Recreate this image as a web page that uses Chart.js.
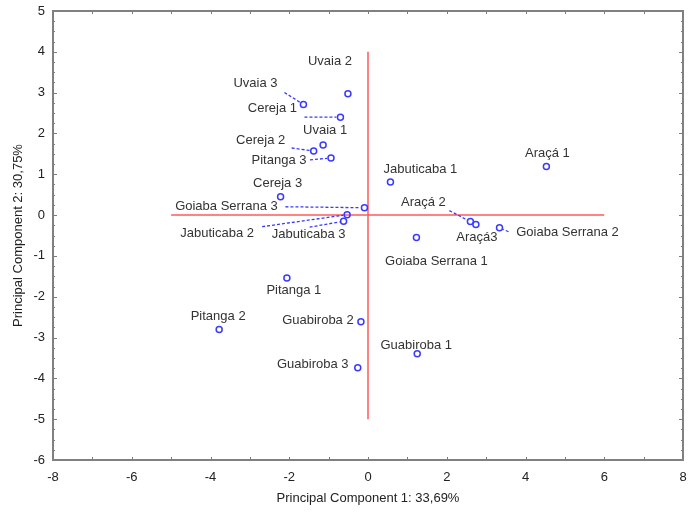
<!DOCTYPE html>
<html>
<head>
<meta charset="utf-8">
<title>PCA – frutas nativas</title>
<script src="https://cdn.jsdelivr.net/npm/chart.js@4.4.1/dist/chart.umd.min.js"></script>
<style>
  html, body { margin: 0; padding: 0; background: #ffffff; }
  #wrap { width: 699px; height: 513px; }
</style>
</head>
<body>
<div id="wrap"><canvas id="pca"></canvas></div>
<script>
// Sample names and their scores on the first two principal components
const samples = [
  'Araçá 1', 'Araçá 2', 'Araçá3',
  'Cereja 1', 'Cereja 2', 'Cereja 3',
  'Goiaba Serrana 1', 'Goiaba Serrana 2', 'Goiaba Serrana 3',
  'Guabiroba 1', 'Guabiroba 2', 'Guabiroba 3',
  'Jabuticaba 1', 'Jabuticaba 2', 'Jabuticaba 3',
  'Pitanga 1', 'Pitanga 2', 'Pitanga 3',
  'Uvaia 1', 'Uvaia 2', 'Uvaia 3'
];
const pc1 = [
  4.53, 2.60, 2.74,
  -0.70, -1.38, -2.22,
  1.23, 3.34, -0.09,
  1.25, -0.18, -0.26,
  0.57, -0.53, -0.62,
  -2.06, -3.78, -0.94,
  -1.14, -0.51, -1.64
];
const pc2 = [
  1.19, -0.16, -0.23,
  2.40, 1.57, 0.45,
  -0.55, -0.31, 0.18,
  -3.40, -2.61, -3.74,
  0.81, 0.01, -0.15,
  -1.54, -2.80, 1.40,
  1.72, 2.97, 2.71
];

// Reference cross through the origin
const crossX = [-5, 6];
const crossY = [-5, 4];

// Axis ranges and tick spacing
const xRange = [-8, 8];
const yRange = [-6, 5];
const xMajorStep = 2, xMinorStep = 1;
const yMajorStep = 1, yMinorStep = 0.25;

// Axis titles
const xTitle = 'Principal Component 1: 33,69%';
const yTitle = 'Principal Component 2: 30,75%';

// Label placement: text centre offset from its point (px); optional leader start offset (px)
const labelLayout = [
  { dx: 1, dy: -13 }, { dx: -47, dy: -19, lx: -21, ly: -11 }, { dx: 1, dy: 13 },
  { dx: -68, dy: -9, lx: -36, ly: 0 }, { dx: -53, dy: -11, lx: -22, ly: -3 }, { dx: -3, dy: -13 },
  { dx: 20, dy: 24 }, { dx: 68, dy: 5, lx: 9, ly: 4 }, { dx: -138, dy: -1, lx: -79, ly: -1 },
  { dx: -1, dy: -8 }, { dx: -43, dy: -1 }, { dx: -45, dy: -3 },
  { dx: 30, dy: -13 }, { dx: -130, dy: 19, lx: -85, ly: 12 }, { dx: -35, dy: 13, lx: -34, ly: 6 },
  { dx: 7, dy: 12 }, { dx: -1, dy: -13 }, { dx: -52, dy: 2, lx: -21, ly: 2 },
  { dx: 2, dy: -14 }, { dx: -18, dy: -32 }, { dx: -48, dy: -21, lx: -19, ly: -12 }
];

const FONT = '"Liberation Sans", Arial, sans-serif';
const POINT_BLUE = '#3a3aff';
const POINT_R = 3;

const points = samples.map((name, i) => ({ x: pc1[i], y: pc2[i], name }));

// Frame with small inward tick marks on all four sides
const framePlugin = {
  id: 'frame',
  afterDraw(chart) {
    const { ctx, chartArea: a, scales: { x, y } } = chart;
    ctx.save();
    ctx.strokeStyle = '#7a7a7a';
    ctx.lineWidth = 1;
    const tick = (x1, y1, x2, y2) => { ctx.beginPath(); ctx.moveTo(x1, y1); ctx.lineTo(x2, y2); ctx.stroke(); };
    for (let v = x.min; v <= x.max + 1e-9; v += xMinorStep) {
      const px = Math.round(x.getPixelForValue(v)) + 0.5;
      const len = 3;
      tick(px, a.bottom, px, a.bottom - len);
      tick(px, a.top, px, a.top + len);
    }
    for (let v = y.min; v <= y.max + 1e-9; v += yMinorStep) {
      const py = Math.round(y.getPixelForValue(v)) + 0.5;
      const major = Math.abs(v - Math.round(v)) < 1e-9;
      const len = major ? 4 : 2;
      tick(a.left, py, a.left + len, py);
      tick(a.right, py, a.right - len, py);
    }
    ctx.lineWidth = 2;
    ctx.strokeStyle = '#808080';
    ctx.strokeRect(a.left, a.top, a.right - a.left, a.bottom - a.top);
    ctx.restore();
  }
};

// Sample names with dashed leader lines
const labelPlugin = {
  id: 'sampleLabels',
  afterDatasetsDraw(chart) {
    const { ctx, scales: { x, y } } = chart;
    ctx.save();
    ctx.font = '13px ' + FONT;
    ctx.fillStyle = '#333333';
    ctx.textAlign = 'center';
    ctx.textBaseline = 'middle';
    samples.forEach((name, i) => {
      const px = x.getPixelForValue(pc1[i]);
      const py = y.getPixelForValue(pc2[i]);
      const L = labelLayout[i];
      if (L.lx !== undefined) {
        const sx = px + L.lx, sy = py + L.ly;
        const d = Math.hypot(px - sx, py - sy);
        const ex = px - (px - sx) / d * (POINT_R + 1);
        const ey = py - (py - sy) / d * (POINT_R + 1);
        ctx.save();
        ctx.strokeStyle = POINT_BLUE;
        ctx.lineWidth = 1.3;
        ctx.setLineDash([3, 2]);
        ctx.beginPath();
        ctx.moveTo(sx, sy);
        ctx.lineTo(ex, ey);
        ctx.stroke();
        ctx.restore();
      }
      ctx.fillText(name, px + L.dx, py + L.dy);
    });
    ctx.restore();
  }
};

new Chart(document.getElementById('pca'), {
  type: 'scatter',
  data: {
    datasets: [
      {
        data: crossX.map(v => ({ x: v, y: 0 })),
        showLine: true, borderColor: '#ff5a5a', borderWidth: 1.5,
        pointRadius: 0, order: 2
      },
      {
        data: crossY.map(v => ({ x: 0, y: v })),
        showLine: true, borderColor: '#ff5a5a', borderWidth: 1.5,
        pointRadius: 0, order: 2
      },
      {
        data: points,
        pointStyle: 'circle', pointRadius: POINT_R, pointBorderWidth: 1.5,
        pointBorderColor: POINT_BLUE, pointBackgroundColor: 'rgba(255,255,255,0)',
        order: 1
      }
    ]
  },
  options: {
    responsive: true,
    maintainAspectRatio: false,
    animation: false,
    devicePixelRatio: 1,
    layout: { padding: { top: 11, right: 16, left: 0, bottom: 0 } },
    plugins: { legend: { display: false }, tooltip: { enabled: false } },
    scales: {
      x: {
        type: 'linear', min: xRange[0], max: xRange[1],
        afterFit(s) { s.height = 53; s.paddingLeft = 0; s.paddingRight = 0; },
        grid: { display: false, drawTicks: false },
        border: { display: false },
        ticks: {
          stepSize: xMajorStep, padding: 10, color: '#222222',
          font: { family: FONT, size: 13 },
          callback: v => String(v)
        },
        title: {
          display: true, text: xTitle, color: '#222222',
          font: { family: FONT, size: 13 }, padding: { top: 0, bottom: 7 }
        }
      },
      y: {
        type: 'linear', min: yRange[0], max: yRange[1],
        afterFit(s) { s.width = 53; s.paddingTop = 0; s.paddingBottom = 0; },
        grid: { display: false, drawTicks: false },
        border: { display: false },
        ticks: {
          stepSize: yMajorStep, padding: 8, color: '#222222',
          font: { family: FONT, size: 13 },
          callback: v => String(v)
        },
        title: {
          display: true, text: yTitle, color: '#222222',
          font: { family: FONT, size: 13 }, padding: { top: 11, bottom: 0 }
        }
      }
    }
  },
  plugins: [framePlugin, labelPlugin]
});
</script>
</body>
</html>
